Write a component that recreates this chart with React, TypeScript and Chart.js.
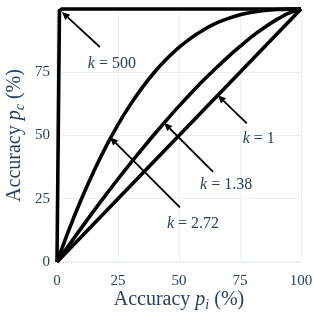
import React, { useEffect, useRef } from "react";
import { Chart, registerables } from "chart.js";

Chart.register(...registerables);

// ---- data ----
const xTickValues = [0, 25, 50, 75, 100];
const yTickValues = [0, 25, 50, 75];

const pI = [0, 5, 10, 15, 20, 25, 30, 35, 40, 45, 50, 55, 60, 65, 70, 75, 80, 85, 90, 95, 100];
const k138 = [0, 6.8, 13.5, 20.1, 26.5, 32.8, 38.9, 44.8, 50.6, 56.2, 61.6, 66.8, 71.8, 76.5, 81.0, 85.2, 89.2, 92.7, 95.8, 98.4, 100];
const k272 = [0, 13.0, 24.9, 35.7, 45.5, 54.3, 62.1, 69.0, 75.1, 80.3, 84.8, 88.6, 91.7, 94.3, 96.2, 97.7, 98.7, 99.4, 99.8, 99.97, 100];
const k1X = [0, 100];
const k1Y = [0, 100];
const k500X = [0, 1, 2, 100];
const k500Y = [0, 99.3, 100, 100];

const annValues = ["500", "2.72", "1.38", "1"];
const annHeadX = [2.0, 21.7, 43.9, 65.9];
const annHeadY = [98.8, 49.3, 55.0, 65.9];

// ---- styles ----
const TEXT = "#2a3f5f";
const GRID = "#EBF0F8";
const SERIF = "'Liberation Serif', 'Times New Roman', serif";
// pixel offsets of arrow tail and label centre relative to the arrow head
const annTail = [[38, 35], [70, 70], [49, 49], [29, 28]];
const annText = [[50, 50], [83, 85], [62, 61], [41, 42]];

type Seg = { t: string; it?: boolean; s: number; dy?: number };

function drawRich(ctx: CanvasRenderingContext2D, segs: Seg[], cx: number, baseline: number) {
  let total = 0;
  const widths: number[] = [];
  for (const sg of segs) {
    ctx.font = `${sg.it ? "italic " : ""}${sg.s}px ${SERIF}`;
    const w = ctx.measureText(sg.t).width;
    widths.push(w);
    total += w;
  }
  let x = cx - total / 2;
  ctx.textAlign = "left";
  ctx.textBaseline = "alphabetic";
  segs.forEach((sg, i) => {
    ctx.font = `${sg.it ? "italic " : ""}${sg.s}px ${SERIF}`;
    ctx.fillText(sg.t, x, baseline + (sg.dy || 0));
    x += widths[i];
  });
}

const overlayPlugin = {
  id: "overlay",
  afterDatasetsDraw(chart: any) {
    const ctx: CanvasRenderingContext2D = chart.ctx;
    const xs = chart.scales.x;
    const ys = chart.scales.y;
    ctx.save();
    annValues.forEach((val, i) => {
      const hx = xs.getPixelForValue(annHeadX[i]);
      const hy = ys.getPixelForValue(annHeadY[i]);
      const tx = hx + annTail[i][0];
      const ty = hy + annTail[i][1];
      const ang = Math.atan2(hy - ty, hx - tx);
      const L = 8, W = 3.6;
      const bx = hx - L * Math.cos(ang);
      const by = hy - L * Math.sin(ang);
      ctx.strokeStyle = "#000";
      ctx.lineWidth = 1.8;
      ctx.beginPath();
      ctx.moveTo(tx, ty);
      ctx.lineTo(bx, by);
      ctx.stroke();
      ctx.fillStyle = "#000";
      ctx.beginPath();
      ctx.moveTo(hx, hy);
      ctx.lineTo(bx + W * Math.sin(ang), by - W * Math.cos(ang));
      ctx.lineTo(bx - W * Math.sin(ang), by + W * Math.cos(ang));
      ctx.closePath();
      ctx.fill();
      ctx.fillStyle = TEXT;
      drawRich(ctx, [{ t: "k", it: true, s: 16 }, { t: " = " + val, s: 16 }], hx + annText[i][0], hy + annText[i][1] + 5.5);
    });
    ctx.restore();
  },
  afterDraw(chart: any) {
    const ctx: CanvasRenderingContext2D = chart.ctx;
    const a = chart.chartArea;
    ctx.save();
    ctx.fillStyle = TEXT;
    drawRich(
      ctx,
      [{ t: "Accuracy ", s: 20 }, { t: "p", it: true, s: 20 }, { t: "i", it: true, s: 14, dy: 4 }, { t: " (%)", s: 20 }],
      (a.left + a.right) / 2,
      305
    );
    ctx.translate(20, (a.top + a.bottom) / 2);
    ctx.rotate(-Math.PI / 2);
    drawRich(
      ctx,
      [{ t: "Accuracy ", s: 20 }, { t: "p", it: true, s: 20 }, { t: "c", it: true, s: 14, dy: 4 }, { t: " (%)", s: 20 }],
      0,
      0
    );
    ctx.restore();
  },
};

function toPts(xs: number[], ys: number[]) {
  return xs.map((x, i) => ({ x, y: ys[i] }));
}

export default function App() {
  const ref = useRef<HTMLCanvasElement | null>(null);
  useEffect(() => {
    document.body.style.margin = "0";
    const canvas = ref.current!;
    const lineBase = {
      borderColor: "#000",
      backgroundColor: "#000",
      borderWidth: 3.6,
      pointRadius: 0,
      fill: false,
      clip: false as any,
    };
    const chart = new Chart(canvas, {
      type: "line",
      data: {
        datasets: [
          { ...lineBase, label: "k = 1", data: toPts(k1X, k1Y) },
          { ...lineBase, label: "k = 1.38", data: toPts(pI, k138), cubicInterpolationMode: "monotone" },
          { ...lineBase, label: "k = 2.72", data: toPts(pI, k272), cubicInterpolationMode: "monotone" },
          { ...lineBase, label: "k = 500", data: toPts(k500X, k500Y) },
        ] as any,
      },
      options: {
        animation: false,
        responsive: false,
        devicePixelRatio: 1,
        layout: { padding: { left: 0, right: 13, top: 9, bottom: 0 } },
        plugins: { legend: { display: false }, tooltip: { enabled: false } },
        scales: {
          x: {
            type: "linear",
            min: 0,
            max: 100,
            afterBuildTicks: (s: any) => { s.ticks = xTickValues.map((v) => ({ value: v })); },
            afterFit: (s: any) => { s.height = 52; s.paddingLeft = 0; s.paddingRight = 0; },
            grid: { color: GRID, lineWidth: (c: any) => (c.tick && c.tick.value === 0 ? 2 : 1), drawTicks: false },
            border: { display: false },
            ticks: { color: TEXT, font: { family: SERIF, size: 15 }, padding: 10, maxRotation: 0 },
          },
          y: {
            type: "linear",
            min: 0,
            max: 100,
            afterBuildTicks: (s: any) => { s.ticks = [...yTickValues, 100].map((v) => ({ value: v })); },
            afterFit: (s: any) => { s.width = 57; s.paddingTop = 0; s.paddingBottom = 0; },
            grid: { color: GRID, lineWidth: (c: any) => (c.tick && c.tick.value === 0 ? 2 : 1), drawTicks: false },
            border: { display: false },
            ticks: {
              color: TEXT,
              font: { family: SERIF, size: 15 },
              padding: 7,
              callback: (v: any) => (yTickValues.includes(Number(v)) ? String(v) : ""),
            },
          },
        },
      },
      plugins: [overlayPlugin],
    });
    return () => chart.destroy();
  }, []);
  return (
    <div style={{ width: 314, height: 314 }}>
      <canvas ref={ref} width={314} height={314} style={{ display: "block" }} />
    </div>
  );
}
